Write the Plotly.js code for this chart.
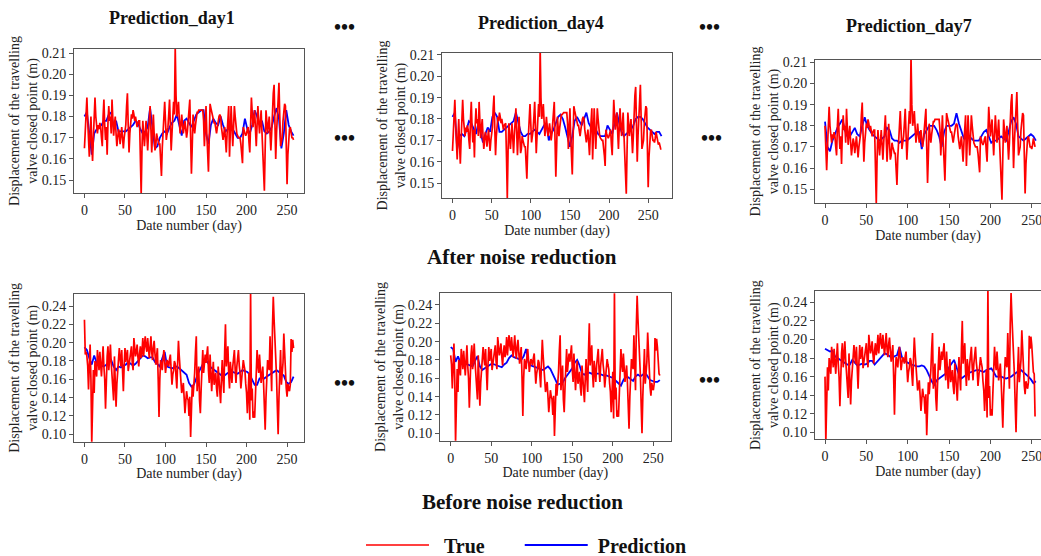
<!DOCTYPE html>
<html><head><meta charset="utf-8">
<script src="https://cdn.plot.ly/plotly-3.0.1.min.js"></script>
<style>html,body{margin:0;padding:0;background:#fff;overflow:hidden;width:1041px;height:556px}#chart{width:1041px;height:566px}</style>
</head><body><div id="chart"></div>
<script>
// ---- data ----
const topTrue = [
.165,.176,.183,.189,.178,.170,.161,.172,.180,.168,
.159,.170,.182,.189,.180,.174,.172,.176,.174,.177,
.175,.170,.166,.180,.188,.176,.169,.175,.162,.177,
.185,.178,.180,.172,.188,.179,.171,.176,.180,.172,
.166,.170,.174,.172,.167,.171,.175,.170,.165,.170,
.173,.176,.185,.191,.176,.163,.172,.178,.181,.179,
.183,.181,.178,.180,.177,.175,.177,.178,.178,.162,
.143,.165,.178,.172,.166,.172,.178,.171,.164,.172,
.180,.185,.174,.163,.172,.181,.172,.164,.166,.172,
.170,.168,.167,.167,.160,.152,.165,.175,.181,.187,
.178,.169,.172,.175,.181,.188,.176,.164,.172,.180,
.187,.181,.213,.190,.180,.183,.187,.179,.172,.176,
.181,.176,.172,.175,.178,.174,.170,.173,.177,.183,
.188,.170,.153,.166,.181,.176,.172,.176,.181,.182,
.182,.183,.183,.183,.183,.183,.183,.178,.166,.175,
.185,.172,.160,.154,.170,.186,.184,.182,.181,.179,
.177,.177,.174,.172,.175,.178,.180,.181,.180,.175,
.172,.169,.172,.175,.169,.163,.172,.180,.185,.161,
.173,.185,.175,.166,.175,.185,.180,.175,.172,.171,
.170,.170,.170,.167,.163,.158,.175,.173,.172,.171,
.172,.174,.175,.168,.163,.176,.189,.182,.175,.179,
.183,.174,.166,.176,.185,.178,.172,.177,.183,.173,
.162,.155,.145,.165,.183,.178,.172,.176,.180,.172,
.164,.172,.185,.191,.195,.175,.160,.172,.183,.190,
.196,.180,.166,.168,.170,.178,.185,.186,.185,.160,
.148,.162,.172,.174,.175,.172,.170,.170,.169,.171,
.174,.172,.170,.168,.169,.167,.166,.166];

const bottomTrue = [
.225,.187,.190,.185,.175,.149,.175,.198,.160,.090,
.130,.170,.145,.180,.172,.163,.192,.180,.170,.190,
.178,.163,.180,.196,.174,.160,.128,.165,.185,.196,
.170,.182,.198,.178,.163,.150,.137,.185,.165,.130,
.155,.170,.180,.194,.182,.174,.192,.170,.147,.175,
.194,.179,.185,.192,.169,.176,.183,.190,.196,.178,
.170,.205,.192,.185,.190,.198,.184,.174,.188,.196,
.183,.190,.205,.185,.198,.207,.195,.190,.205,.192,
.183,.195,.207,.190,.181,.195,.202,.188,.176,.185,
.194,.160,.119,.160,.181,.176,.170,.183,.192,.180,
.167,.175,.181,.178,.174,.182,.187,.170,.154,.165,
.170,.180,.177,.163,.150,.178,.202,.185,.174,.160,
.145,.150,.156,.140,.123,.135,.147,.140,.137,.120,
.141,.097,.130,.154,.141,.150,.167,.190,.207,.147,
.160,.174,.137,.123,.150,.175,.192,.167,.180,.187,
.178,.185,.196,.170,.156,.187,.170,.147,.165,.179,
.154,.160,.167,.150,.141,.174,.160,.150,.134,.160,
.181,.160,.145,.190,.220,.174,.185,.196,.165,.150,
.179,.165,.156,.174,.185,.192,.170,.156,.174,.182,
.192,.175,.167,.150,.160,.170,.181,.175,.170,.155,
.145,.123,.145,.167,.116,.256,.137,.150,.118,.125,
.118,.150,.170,.192,.175,.167,.187,.170,.156,.165,
.174,.156,.130,.105,.140,.167,.181,.175,.170,.207,
.160,.147,.217,.250,.225,.207,.185,.163,.130,.100,
.140,.167,.192,.154,.165,.178,.210,.185,.163,.150,
.141,.155,.150,.147,.154,.204,.190,.203,.194,.175,
.165,.163,.117];

// predictions, one value every 3 days
const predTopDay1 = [
.180,.182,.172,.162,.172,.174,.175,.176,.178,.178,
.181,.182,.175,.178,.173,.173,.173,.173,.174,.175,
.176,.178,.177,.174,.172,.173,.175,.184,.174,.165,
.166,.170,.172,.173,.172,.175,.177,.178,.181,.176,
.171,.178,.179,.177,.175,.178,.181,.182,.183,.183,
.172,.167,.176,.179,.177,.176,.180,.176,.173,.174,
.176,.174,.172,.170,.170,.172,.179,.174,.172,.176,
.183,.180,.176,.178,.173,.172,.173,.175,.180,.184,
.179,.165,.172,.183,.176,.173,.171];
const predTopDay4 = [
.181,.183,.166,.172,.173,.172,.175,.179,.178,.175,
.173,.178,.174,.169,.173,.176,.174,.181,.183,.181,
.174,.174,.175,.176,.177,.178,.179,.183,.178,.174,
.172,.172,.173,.173,.174,.175,.174,.173,.175,.177,
.178,.170,.173,.175,.178,.181,.182,.180,.176,.171,
.167,.172,.179,.181,.179,.177,.180,.183,.178,.176,
.175,.175,.173,.172,.172,.172,.177,.175,.173,.178,
.183,.178,.174,.172,.173,.174,.175,.177,.180,.181,
.181,.180,.178,.176,.175,.174,.173,.174,.174,.172];
const predTopDay7 = [
.182,.170,.168,.173,.176,.179,.181,.183,.178,.175,
.175,.177,.179,.176,.175,.180,.184,.180,.178,.176,
.175,.174,.173,.174,.175,.179,.178,.174,.173,.173,
.172,.173,.173,.173,.174,.175,.176,.177,.177,.169,
.176,.178,.180,.180,.180,.178,.175,.170,.177,.180,
.180,.180,.181,.186,.181,.177,.174,.174,.175,.174,
.173,.173,.173,.175,.177,.178,.175,.172,.173,.173,
.174,.175,.174,.173,.177,.182,.184,.181,.175,.174,
.173,.174,.175,.176,.175,.173];
const predBottomDay1 = [
.195,.192,.183,.176,.186,.178,.176,.175,.174,.176,
.179,.181,.174,.170,.174,.173,.175,.176,.179,.177,
.175,.177,.180,.183,.186,.185,.183,.184,.184,.179,
.176,.174,.183,.190,.174,.173,.172,.173,.174,.172,
.170,.168,.165,.156,.152,.154,.162,.168,.173,.178,
.181,.177,.173,.171,.169,.166,.164,.163,.165,.167,
.167,.168,.167,.166,.168,.170,.169,.168,.165,.160,
.154,.154,.161,.162,.161,.163,.165,.167,.169,.170,
.168,.166,.164,.157,.155,.157,.163];
const predBottomDay4 = [
.194,.192,.178,.184,.177,.176,.176,.175,.174,.173,
.179,.184,.173,.169,.171,.173,.175,.176,.175,.174,
.173,.172,.175,.177,.182,.185,.183,.182,.181,.180,
.184,.192,.177,.174,.173,.172,.171,.170,.169,.171,
.173,.170,.164,.157,.153,.154,.155,.160,.164,.167,
.171,.177,.180,.174,.165,.164,.166,.166,.165,.166,
.165,.165,.164,.163,.163,.162,.161,.160,.157,.154,
.152,.158,.162,.161,.159,.157,.162,.164,.162,.164,
.166,.162,.158,.157,.156,.156,.158];
const predBottomDay7 = [
.190,.188,.187,.188,.182,.180,.178,.176,.174,.173,
.173,.178,.175,.172,.173,.174,.173,.174,.177,.177,
.173,.176,.180,.183,.185,.184,.182,.180,.182,.183,
.192,.181,.177,.175,.174,.173,.172,.171,.171,.172,
.171,.167,.161,.155,.151,.156,.158,.160,.162,.164,
.170,.174,.178,.170,.162,.158,.160,.162,.164,.165,
.166,.167,.167,.166,.165,.167,.168,.169,.165,.160,
.160,.160,.159,.158,.159,.160,.162,.164,.166,.167,
.165,.163,.160,.157,.153,.155];

const panelTitles = ['Prediction_day1', 'Prediction_day4', 'Prediction_day7'];
const xTickVals = [0, 50, 100, 150, 200, 250];
const yTicksTop = [0.15, 0.16, 0.17, 0.18, 0.19, 0.20, 0.21];
const yTicksBottom = [0.10, 0.12, 0.14, 0.16, 0.18, 0.20, 0.22, 0.24];
const seriesNames = ['True', 'Prediction'];

// ---- layout helpers ----
const FONT = '"Liberation Serif", serif';
const W = 1041, H = 566;   // figure slightly taller than the window so the legend can sit low
const dayIndex = (n, step) => Array.from({length: n}, (_, i) => i * step);
const NB = '\u00a0';

const panels = [
  {t: topTrue.slice(0, 259),    p: predTopDay1,    xd: [74, 304],  yd: [49, 193],    xr: [-12.9, 270.9], yr: [0.1439, 0.2119], yt: yTicksTop, right: true},
  {t: topTrue.slice(0, 268),    p: predTopDay4,    xd: [442, 672], yd: [53, 198],    xr: [-13.4, 280.4], yr: [0.1430, 0.2109], yt: yTicksTop, right: true},
  {t: topTrue.slice(8, 263),    p: predTopDay7,    xd: [815, 1041], yd: [60, 203],   xr: [-12.1, 261.2], yr: [0.1435, 0.2111], yt: yTicksTop, right: false},
  {t: bottomTrue.slice(0, 259), p: predBottomDay1, xd: [74, 304],  yd: [294, 441.7], xr: [-12.9, 270.9], yr: [0.0919, 0.2531], yt: yTicksBottom, right: true},
  {t: bottomTrue.slice(3, 262), p: predBottomDay4, xd: [440, 670.7], yd: [293.3, 440.7], xr: [-13.2, 271.4], yr: [0.0919, 0.2527], yt: yTicksBottom, right: true},
  {t: bottomTrue.slice(8, 263), p: predBottomDay7, xd: [815, 1041], yd: [291, 439.3], xr: [-12.1, 261.2], yr: [0.0925, 0.2522], yt: yTicksBottom, right: false}
];

const traces = [];
const layout = {
  width: W, height: H,
  margin: {l: 0, r: 0, t: 0, b: 0},
  paper_bgcolor: '#fff', plot_bgcolor: '#fff',
  font: {family: FONT, color: '#222'},
  showlegend: true,
  legend: {
    orientation: 'h', x: 361 / W, xanchor: 'left', y: 1 - 545 / H, yanchor: 'middle',
    font: {family: FONT, size: 20, weight: 'bold', color: '#111'},
    itemwidth: 63, traceorder: 'normal', bgcolor: 'rgba(0,0,0,0)'
  },
  annotations: []
};

const tickFont = {family: FONT, size: 14, color: '#222'};
panels.forEach((pn, i) => {
  const k = i + 1;
  const xa = 'x' + (k === 1 ? '' : k), ya = 'y' + (k === 1 ? '' : k);
  traces.push({
    type: 'scatter', mode: 'lines', name: NB + seriesNames[1], legendrank: 2,
    x: dayIndex(pn.p.length, 3), y: pn.p, xaxis: xa, yaxis: ya,
    line: {color: '#0000ff', width: 1.8}, showlegend: k === 1, hoverinfo: 'skip'
  });
  traces.push({
    type: 'scatter', mode: 'lines', name: NB + NB + seriesNames[0] + NB.repeat(6), legendrank: 1,
    x: dayIndex(pn.t.length, 1), y: pn.t, xaxis: xa, yaxis: ya,
    line: {color: '#ff0000', width: 1.7}, showlegend: k === 1, hoverinfo: 'skip'
  });
  const common = {
    showline: true, linecolor: '#555', linewidth: 1, ticks: 'outside', ticklen: 4,
    tickwidth: 1, tickcolor: '#555', showgrid: false, zeroline: false,
    tickfont: tickFont, fixedrange: true, automargin: false, ticklabeloverflow: 'allow'
  };
  layout['xaxis' + (k === 1 ? '' : k)] = Object.assign({}, common, {
    domain: [pn.xd[0] / W, pn.xd[1] / W], range: pn.xr, anchor: ya,
    tickvals: xTickVals, mirror: true,
    title: {text: 'Date number (day)', font: {family: FONT, size: 14, color: '#222'}, standoff: 2}
  });
  layout['yaxis' + (k === 1 ? '' : k)] = Object.assign({}, common, {
    domain: [1 - pn.yd[1] / H, 1 - pn.yd[0] / H], range: pn.yr, anchor: xa,
    tickvals: pn.yt, tickformat: '.2f', mirror: pn.right,
    title: {text: 'Displacement of the travelling<br>valve closed point (m)', font: {family: FONT, size: 14, color: '#222'}, standoff: 0}
  });
});

function addText(text, px, py, size, bold) {
  layout.annotations.push({
    text: text, xref: 'paper', yref: 'paper', x: px / W, y: 1 - py / H,
    xanchor: 'center', yanchor: 'middle', showarrow: false,
    font: {family: FONT, size: size, color: '#111', weight: bold ? 'bold' : 'normal'}
  });
}
addText(panelTitles[0], 172, 18, 18, true);
addText(panelTitles[1], 541, 23, 18, true);
addText(panelTitles[2], 909, 26, 18, true);
addText('After noise reduction', 522, 257, 21, true);
addText('Before noise reduction', 522, 502, 21, true);
[[344, 27], [344, 138], [709, 27], [711, 138], [344, 383], [709, 380]].forEach(p => addText('•••', p[0], p[1], 20, true));

Plotly.newPlot('chart', traces, layout, {staticPlot: true, displayModeBar: false});
</script>
</body></html>
